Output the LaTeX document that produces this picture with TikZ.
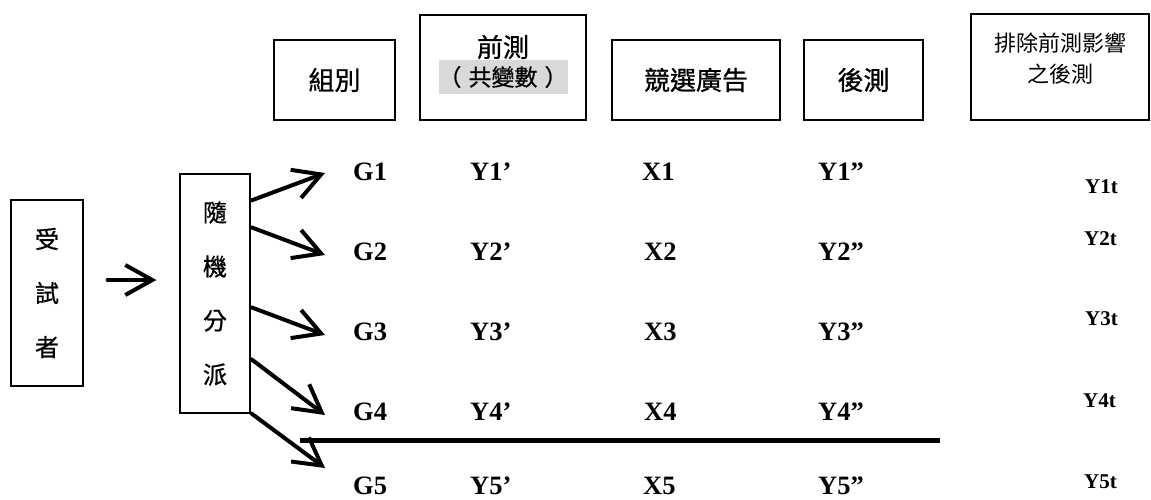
\documentclass[tikz,border=0pt]{standalone}
\usepackage{fontspec}
\setmainfont{Liberation Serif}
\newfontfamily\cjk[FakeBold=0.8]{Noto Sans CJK TC}
\newfontfamily\cjkl{Noto Sans CJK TC}
\usetikzlibrary{arrows.meta,calc}
\definecolor{bgray}{HTML}{D9D9D9}
\begin{document}
\begin{tikzpicture}[x=1pt,y=-1pt,
  box/.style={draw, line width=1.2pt, inner sep=0pt},
  hdr/.style={font=\cjk\fontsize{26}{30}\selectfont},
  lab/.style={anchor=base west, font=\fontsize{26.5}{30}\selectfont\bfseries, inner sep=0pt},
  ylab/.style={anchor=base west, font=\fontsize{21}{25}\selectfont\bfseries, inner sep=0pt},
  bigarrow/.style={line width=4pt, line cap=round, -{Straight Barb[length=27pt,width=30pt]}},
  rule/.style={line width=5pt},
]
\useasboundingbox (0,0) rectangle (1151,500);

% header boxes
\node[box, hdr, minimum width=121pt, minimum height=80pt] (grp) at (334.5,80) {組別};
\node[box, minimum width=166pt, minimum height=105pt] (pre) at (503,67.5) {};
\node[hdr, inner sep=0pt] (preA) at (503,47) {前測};
\node[fill=bgray, inner sep=0pt, minimum width=126pt, minimum height=34pt,
      font=\cjk\fontsize{23}{28}\selectfont] (preB) at (503,77) {（\hspace{7pt}共變數\hspace{7pt}）};
\node[box, hdr, minimum width=168pt, minimum height=80pt] (ad) at (696,80) {競選廣告};
\node[box, hdr, minimum width=119pt, minimum height=80pt] (post) at (863.5,80) {後測};
\node[box, minimum width=178pt, minimum height=106pt] (adj) at (1060,67) {};
\node[inner sep=0pt, font=\cjkl\fontsize{22}{30}\selectfont] (adjA) at (1060,43) {排除前測影響};
\node[inner sep=0pt, font=\cjkl\fontsize{22}{30}\selectfont] (adjB) at (1060,74) {之後測};

% left boxes
\node[box, align=center, minimum width=72pt, minimum height=186pt,
      font=\cjk\fontsize{24}{54}\selectfont] (subj) at (47,293) {受\\試\\者};
\node[box, align=center, minimum width=70pt, minimum height=239pt,
      font=\cjk\fontsize{24}{54}\selectfont] (rand) at (215,293.5) {隨\\機\\分\\派};

% main arrow
\draw[bigarrow] ($(subj.east)+(24,-13)$) -- ($(rand.west)+(-23,-13.5)$);

% arrow tips
\coordinate (t1) at (325,173);
\coordinate (t2) at (325,255);
\coordinate (t3) at (325,335);
\coordinate (t4) at (325,415);
\coordinate (t5) at (325,468);
\draw[bigarrow] ($(rand.north east)+(1,27)$) -- (t1);
\draw[bigarrow] ($(rand.north east)+(1,54)$) -- (t2);
\draw[bigarrow] ($(rand.north east)+(1,134)$) -- (t3);
\draw[bigarrow] ($(rand.north east)+(1,186)$) -- (t4);
\draw[bigarrow] ($(rand.south east)+(1,0)$) -- (t5);

% horizontal rule
\coordinate (h1) at (940,440);
\coordinate (h2) at (300,440);
\draw[rule] (h1) -- (h2);

% row labels
\node[lab] (g1) at (353,180) {G1};
\node[lab] (g2) at (353,260) {G2};
\node[lab] (g3) at (353,340) {G3};
\node[lab] (g4) at (353,420) {G4};
\node[lab] (g5) at (353,494) {G5};

\node[lab] (p1) at (470,180) {Y1’};
\node[lab] (p2) at (470,260) {Y2’};
\node[lab] (p3) at (470,340) {Y3’};
\node[lab] (p4) at (470,420) {Y4’};
\node[lab] (p5) at (470,494) {Y5’};

\node[lab] (x1) at (642,180) {X1};
\node[lab] (x2) at (644,260) {X2};
\node[lab] (x3) at (644,340) {X3};
\node[lab] (x4) at (644,420) {X4};
\node[lab] (x5) at (643,494) {X5};

\node[lab] (q1) at (818,180) {Y1”};
\node[lab] (q2) at (818,260) {Y2”};
\node[lab] (q3) at (818,340) {Y3”};
\node[lab] (q4) at (818,420) {Y4”};
\node[lab] (q5) at (818,494) {Y5”};

\node[ylab] (r1) at (1085,193) {Y1t};
\node[ylab] (r2) at (1084,245) {Y2t};
\node[ylab] (r3) at (1085,325) {Y3t};
\node[ylab] (r4) at (1083,407) {Y4t};
\node[ylab] (r5) at (1084,488) {Y5t};
\end{tikzpicture}
\end{document}
